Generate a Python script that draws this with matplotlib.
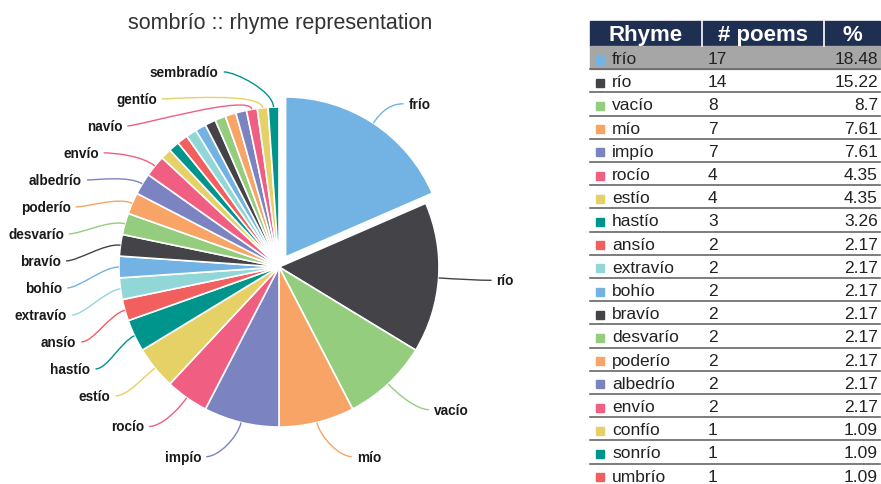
import numpy as np
import matplotlib.pyplot as plt
from matplotlib.patches import Rectangle, PathPatch
from matplotlib.path import Path

plt.rcParams['font.family'] = ['Liberation Sans', 'DejaVu Sans']

# rhyme words and how many poems use each one
rhymes = ['frío', 'río', 'vacío', 'mío', 'impío', 'rocío', 'estío', 'hastío',
          'ansío', 'extravío', 'bohío', 'bravío', 'desvarío', 'poderío',
          'albedrío', 'envío', 'confío', 'sonrío', 'umbrío', 'desafío',
          'tardío', 'baldío', 'desvío', 'plantío', 'labrantío', 'navío',
          'gentío', 'sembradío']
poems = [17, 14, 8, 7, 7, 4, 4, 3, 2, 2, 2, 2, 2, 2, 2, 2,
         1, 1, 1, 1, 1, 1, 1, 1, 1, 1, 1, 1]
labelled = rhymes[:16] + ['navío', 'gentío', 'sembradío']

palette = ['#72b3e3', '#434348', '#95cd7f', '#f7a466', '#7b83c1',
           '#f05f82', '#e6d166', '#00958c', '#f25f5f', '#92d7d8']
colors = [palette[i % len(palette)] for i in range(len(rhymes))]

total = sum(poems)
pct = [f"{round(v / total * 100, 2):g}" for v in poems]

W, H = 881, 485
fig = plt.figure(figsize=(W / 100, H / 100), dpi=100)
ax = fig.add_axes([0, 0, 1, 1])

cx, cy, R = 279, H - 268, 160
# explode is in data units here (pixels), since the radius is not 1
explode = [12] + [0] * (len(poems) - 1)
wedges, _ = ax.pie(poems, colors=colors, startangle=90, counterclock=False,
                   center=(cx, cy), radius=R, explode=explode,
                   wedgeprops=dict(edgecolor='white', linewidth=1.2))
ax.set_xlim(0, W)
ax.set_ylim(0, H)
ax.set_aspect('equal')
ax.axis('off')

ax.text(280, H - 23, 'sombrío :: rhyme representation', ha='center',
        va='center', fontsize=15.5, color='#333333')

# label layout: push labels apart on each side of the pie
labels = []
for name, w, col in zip(rhymes, wedges, colors):
    if name not in labelled:
        continue
    a = np.deg2rad((w.theta1 + w.theta2) / 2)
    c = np.array(w.center)
    d = np.array([np.cos(a), np.sin(a)])
    side = -1 if d[0] < 0.1 else 1
    labels.append(dict(name=name, col=col, c=c, d=d, side=side,
                       y=cy + 1.22 * R * d[1]))

gap = 27
for side in (-1, 1):
    group = sorted([l for l in labels if l['side'] == side], key=lambda l: -l['y'])
    prev = np.inf
    for l in group:
        l['y'] = min(l['y'], prev - gap)
        prev = l['y']

# labels sit on an ellipse around the pie
ea, eb = 218, 203
for l in labels:
    c, d, s = l['c'], l['d'], l['side']
    t = min(abs(l['y'] - cy) / eb, 1)
    text_x = cx + s * ea * np.sqrt(1 - t ** 2)
    end_x = text_x - s * 5
    p0 = c + R * d
    p1 = c + 1.1 * R * d
    verts = [p0, p1, (end_x - s * 12, l['y']), (end_x, l['y'])]
    codes = [Path.MOVETO, Path.CURVE4, Path.CURVE4, Path.CURVE4]
    ax.add_patch(PathPatch(Path(verts, codes), fill=False, edgecolor=l['col'], lw=1))
    ax.text(text_x, l['y'], l['name'], ha='left' if s > 0 else 'right',
            va='center', fontsize=9.8, fontweight='bold', color='#1a1a1a')

# table on the right
tb = fig.add_axes([0, 0, 1, 1])
tb.set_xlim(0, W)
tb.set_ylim(H, 0)
tb.axis('off')

x0, x1, c1, c2 = 590, 880, 702, 824
top, head_h, row_h = 22, 25, 23.2
tb.add_patch(Rectangle((x0, top), x1 - x0, head_h, color='#1f2f52'))
for xs in (c1, c2):
    tb.plot([xs, xs], [top, top + head_h], color='white', lw=1.2)
for txt, xm in zip(['Rhyme', '# poems', '%'],
                   [(x0 + c1) / 2, (c1 + c2) / 2, (c2 + x1) / 2]):
    tb.text(xm, top + head_h / 2 + 1, txt, ha='center', va='center',
            fontsize=16, fontweight='bold', color='white')

for i, (name, n, p, col) in enumerate(zip(rhymes, poems, pct, colors)):
    y0 = top + head_h + i * row_h
    if y0 > H:
        break
    ym = y0 + row_h / 2 + 1
    if i == 0:
        tb.add_patch(Rectangle((x0, y0), x1 - x0, row_h, color='#a6a6a6'))
    tb.add_patch(Rectangle((596, ym - 3), 8, 8, color=col))
    tb.text(612, ym, name, ha='left', va='center', fontsize=12.5, color='#222222')
    tb.text(708, ym, str(n), ha='left', va='center', fontsize=12.5, color='#222222')
    tb.text(878, ym, p, ha='right', va='center', fontsize=12.5, color='#222222')
    tb.plot([x0, x1], [y0 + row_h, y0 + row_h], color='#666666', lw=1.2)

fig.savefig('out.png', dpi=100)
